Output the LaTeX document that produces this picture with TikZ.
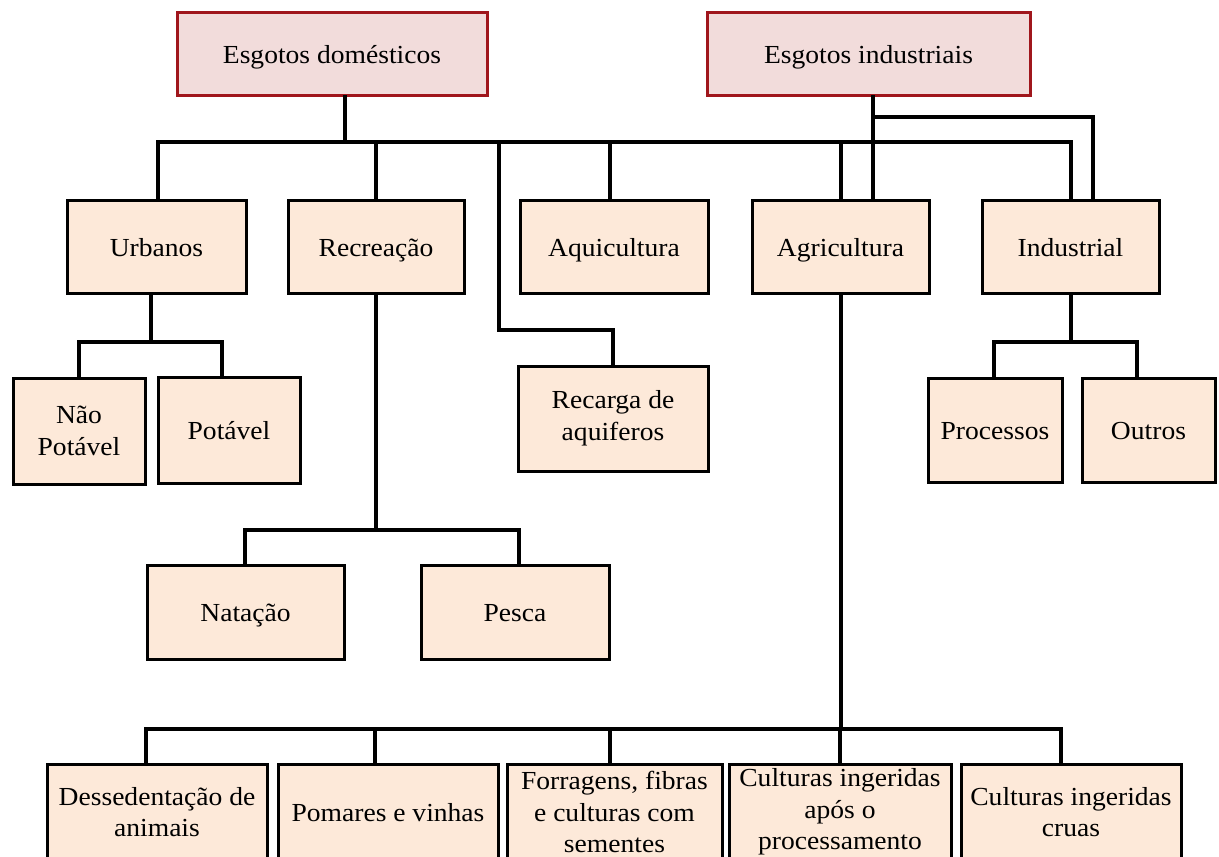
\documentclass[tikz,border=0pt]{standalone}
\usepackage{fontspec}
\setmainfont{Liberation Serif}[FakeStretch=1.06]
\definecolor{topfill}{HTML}{F2DCDB}
\definecolor{topline}{HTML}{A0161C}
\definecolor{boxfill}{HTML}{FDE9D9}
\begin{document}
\begin{tikzpicture}[x=1pt,y=-1pt,
  base/.style={rectangle,align=center,inner sep=2pt,font=\fontsize{26}{32}\selectfont},
  one/.style={text height=20pt,text depth=1pt},
  topbox/.style={base,one,draw=topline,fill=topfill,line width=3pt},
  cbox/.style={base,draw=black,fill=boxfill,line width=3pt},
  lowbox/.style={cbox,font=\fontsize{26}{31.5}\selectfont,minimum height=96},
  conn/.style={draw=black,line width=3.5pt,line cap=rect}]
\useasboundingbox (0,0) rectangle (1219,857);
\clip (0,0) rectangle (1219,857);
\fill[white] (0,0) rectangle (1219,857);

% nodes
\node[topbox,minimum width=310,minimum height=83] (dom) at (332,53.5) {Esgotos domésticos};
\node[topbox,minimum width=323,minimum height=83] (ind) at (868.5,53.5) {Esgotos industriais};

\node[cbox,one,minimum width=179,minimum height=93] (urb) at (156.5,246.5) {Urbanos};
\node[cbox,one,minimum width=176,minimum height=93] (rec) at (376,246.5) {Recreação};
\node[cbox,one,minimum width=188,minimum height=93] (aqu) at (614,246.5) {Aquicultura};
\node[cbox,one,minimum width=177,minimum height=93] (agr) at (840.5,246.5) {Agricultura};
\node[cbox,one,minimum width=177,minimum height=93] (indl) at (1070.5,246.5) {Industrial};

\node[cbox,minimum width=132,minimum height=106] (nao) at (79,431) {Não\\Potável};
\node[cbox,one,minimum width=142,minimum height=106] (pot) at (229,430) {Potável};
\node[cbox,minimum width=190,minimum height=105] (recg) at (613,418.5) {Recarga de\\aquiferos};
\node[cbox,one,minimum width=134,minimum height=104] (proc) at (995,430) {Processos};
\node[cbox,one,minimum width=133,minimum height=104] (out) at (1148.5,430) {Outros};

\node[cbox,one,minimum width=197,minimum height=94] (nat) at (245.5,612) {Natação};
\node[cbox,one,minimum width=188,minimum height=94] (pes) at (515,612) {Pesca};

\node[lowbox,minimum width=220] (des) at (157,812) {Dessedentação de\\animais};
\node[lowbox,one,minimum width=220] (pom) at (388,812) {Pomares e vinhas};
\node[lowbox,minimum width=215] (forr) at (614.5,812) {Forragens, fibras\\e culturas com\\sementes};
\node[lowbox,minimum width=222] (capos) at (840,812) {Culturas ingeridas\\após o\\processamento};
\node[lowbox,minimum width=220] (ccru) at (1071,812) {Culturas ingeridas\\cruas};

% junction coordinates
\coordinate (bd) at (345,142);
\coordinate (b1) at (158,142);
\coordinate (b2) at (376,142);
\coordinate (b3) at (499,142);
\coordinate (b4) at (610,142);
\coordinate (b5) at (841,142);
\coordinate (b6) at (1071,142);
\coordinate (r1) at (499,330);
\coordinate (it) at (873,117);
\coordinate (i2) at (1093,117);

\coordinate (u0) at (151,342);
\coordinate (u1) at (79,342);
\coordinate (u2) at (222,342);

\coordinate (c0) at (376,530);
\coordinate (c1) at (245,530);
\coordinate (c2) at (519,530);

\coordinate (d0) at (1071,342);
\coordinate (d1) at (994,342);
\coordinate (d2) at (1137,342);

\coordinate (a0) at (841,729);
\coordinate (a1) at (146,729);
\coordinate (a2) at (375,729);
\coordinate (a3) at (610,729);
\coordinate (a4) at (840,729);
\coordinate (a5) at (1061,729);

% domestic bus
\draw[conn] (bd |- dom.south) -- (bd);
\draw[conn] (b1) -- (b6);
\draw[conn] (b1) -- (b1 |- urb.north);
\draw[conn] (b2) -- (b2 |- rec.north);
\draw[conn] (b3) -- (r1) -| (recg.north);
\draw[conn] (b4) -- (b4 |- aqu.north);
\draw[conn] (b5) -- (b5 |- agr.north);
\draw[conn] (b6) -- (b6 |- indl.north);
% industrial trunk
\draw[conn] (it |- ind.south) -- (it |- agr.north);
\draw[conn] (it) -- (i2) -- (i2 |- indl.north);
% urbanos
\draw[conn] (u0 |- urb.south) -- (u0);
\draw[conn] (u1 |- nao.north) -- (u1) -- (u2) -- (u2 |- pot.north);
% recreacao
\draw[conn] (c0 |- rec.south) -- (c0);
\draw[conn] (c1 |- nat.north) -- (c1) -- (c2) -- (c2 |- pes.north);
% industrial
\draw[conn] (d0 |- indl.south) -- (d0);
\draw[conn] (d1 |- proc.north) -- (d1) -- (d2) -- (d2 |- out.north);
% agricultura
\draw[conn] (a0 |- agr.south) -- (a0);
\draw[conn] (a1) -- (a5);
\draw[conn] (a1) -- (a1 |- des.north);
\draw[conn] (a2) -- (a2 |- pom.north);
\draw[conn] (a3) -- (a3 |- forr.north);
\draw[conn] (a4) -- (a4 |- capos.north);
\draw[conn] (a5) -- (a5 |- ccru.north);
\end{tikzpicture}
\end{document}
